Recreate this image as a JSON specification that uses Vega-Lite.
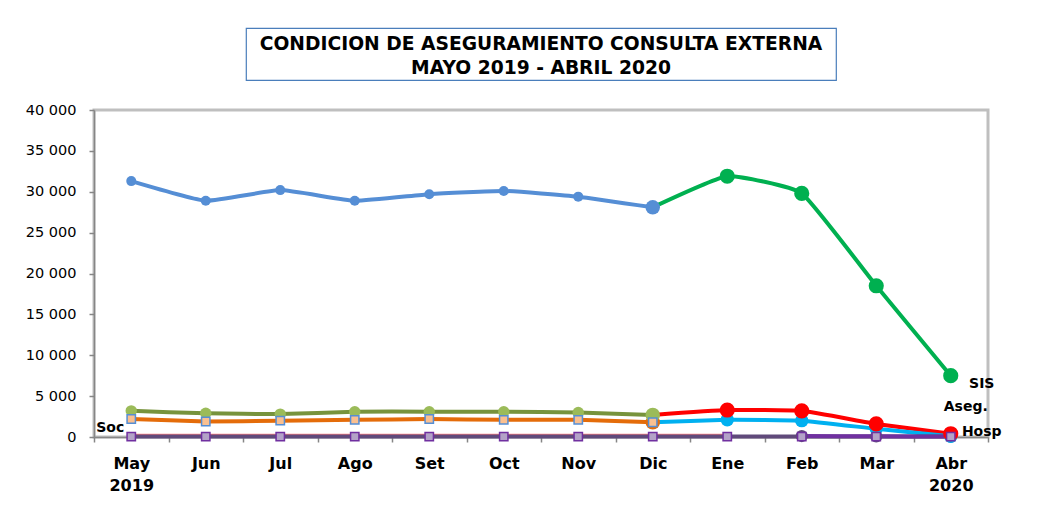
{
  "$schema": "https://vega.github.io/schema/vega-lite/v6.json",
  "background": "white",
  "padding": {"left": 23, "top": 27, "right": 5, "bottom": 5},
  "bounds": "flush",
  "center": true,
  "spacing": 30,
  "datasets": {
    "titulo": [
      {"texto": ["CONDICION DE ASEGURAMIENTO CONSULTA EXTERNA", "MAYO 2019 - ABRIL 2020"]}
    ],
    "serie": [
      {"mes": "May", "grupo": "SIS-1", "valor": 31300},
      {"mes": "Jun", "grupo": "SIS-1", "valor": 28900},
      {"mes": "Jul", "grupo": "SIS-1", "valor": 30200},
      {"mes": "Ago", "grupo": "SIS-1", "valor": 28900},
      {"mes": "Set", "grupo": "SIS-1", "valor": 29700},
      {"mes": "Oct", "grupo": "SIS-1", "valor": 30100},
      {"mes": "Nov", "grupo": "SIS-1", "valor": 29400},
      {"mes": "Dic", "grupo": "SIS-1", "valor": 28100},
      {"mes": "Dic", "grupo": "SIS-2", "valor": 28100},
      {"mes": "Ene", "grupo": "SIS-2", "valor": 31900},
      {"mes": "Feb", "grupo": "SIS-2", "valor": 29800},
      {"mes": "Mar", "grupo": "SIS-2", "valor": 18500},
      {"mes": "Abr", "grupo": "SIS-2", "valor": 7500},
      {"mes": "May", "grupo": "Aseg-1", "valor": 3200},
      {"mes": "Jun", "grupo": "Aseg-1", "valor": 2900},
      {"mes": "Jul", "grupo": "Aseg-1", "valor": 2800},
      {"mes": "Ago", "grupo": "Aseg-1", "valor": 3100},
      {"mes": "Set", "grupo": "Aseg-1", "valor": 3100},
      {"mes": "Oct", "grupo": "Aseg-1", "valor": 3100},
      {"mes": "Nov", "grupo": "Aseg-1", "valor": 3000},
      {"mes": "Dic", "grupo": "Aseg-1", "valor": 2700},
      {"mes": "Dic", "grupo": "Aseg-2", "valor": 2700},
      {"mes": "Ene", "grupo": "Aseg-2", "valor": 3300},
      {"mes": "Feb", "grupo": "Aseg-2", "valor": 3200},
      {"mes": "Mar", "grupo": "Aseg-2", "valor": 1600},
      {"mes": "Abr", "grupo": "Aseg-2", "valor": 400},
      {"mes": "May", "grupo": "Hosp-1", "valor": 2200},
      {"mes": "Jun", "grupo": "Hosp-1", "valor": 1900},
      {"mes": "Jul", "grupo": "Hosp-1", "valor": 2000},
      {"mes": "Ago", "grupo": "Hosp-1", "valor": 2100},
      {"mes": "Set", "grupo": "Hosp-1", "valor": 2200},
      {"mes": "Oct", "grupo": "Hosp-1", "valor": 2100},
      {"mes": "Nov", "grupo": "Hosp-1", "valor": 2100},
      {"mes": "Dic", "grupo": "Hosp-1", "valor": 1800},
      {"mes": "Dic", "grupo": "Hosp-2", "valor": 1800},
      {"mes": "Ene", "grupo": "Hosp-2", "valor": 2100},
      {"mes": "Feb", "grupo": "Hosp-2", "valor": 2000},
      {"mes": "Mar", "grupo": "Hosp-2", "valor": 1000},
      {"mes": "Abr", "grupo": "Hosp-2", "valor": 100},
      {"mes": "May", "grupo": "Otro", "valor": 300},
      {"mes": "Jun", "grupo": "Otro", "valor": 300},
      {"mes": "Jul", "grupo": "Otro", "valor": 300},
      {"mes": "Ago", "grupo": "Otro", "valor": 300},
      {"mes": "Set", "grupo": "Otro", "valor": 300},
      {"mes": "Oct", "grupo": "Otro", "valor": 300},
      {"mes": "Nov", "grupo": "Otro", "valor": 300},
      {"mes": "Dic", "grupo": "Otro", "valor": 300},
      {"mes": "Ene", "grupo": "Otro", "valor": 300},
      {"mes": "May", "grupo": "Soc-1", "valor": 50},
      {"mes": "Jun", "grupo": "Soc-1", "valor": 50},
      {"mes": "Jul", "grupo": "Soc-1", "valor": 50},
      {"mes": "Ago", "grupo": "Soc-1", "valor": 50},
      {"mes": "Set", "grupo": "Soc-1", "valor": 50},
      {"mes": "Oct", "grupo": "Soc-1", "valor": 50},
      {"mes": "Nov", "grupo": "Soc-1", "valor": 50},
      {"mes": "Dic", "grupo": "Soc-1", "valor": 50},
      {"mes": "Ene", "grupo": "Soc-1", "valor": 50},
      {"mes": "Feb", "grupo": "Soc-1", "valor": 50},
      {"mes": "Mar", "grupo": "Soc-1", "valor": 50},
      {"mes": "Abr", "grupo": "Soc-1", "valor": 50},
      {"mes": "Feb", "grupo": "Soc-2", "valor": 120},
      {"mes": "Mar", "grupo": "Soc-2", "valor": 80},
      {"mes": "Abr", "grupo": "Soc-2", "valor": 50}
    ],
    "etiquetas": [
      {"mes": "Abr", "valor": 6500, "etiqueta": "SIS"},
      {"mes": "Abr", "valor": 3700, "etiqueta": "Aseg."},
      {"mes": "Abr", "valor": 650, "etiqueta": "Hosp"},
      {"mes": "May", "valor": 1100, "etiqueta": "Soc"}
    ]
  },
  "vconcat": [
    {
      "width": 590,
      "height": 52,
      "view": {"stroke": "#4A7EBB", "strokeWidth": 1.2, "fill": "white"},
      "data": {"name": "titulo"},
      "mark": {"type": "text", "font": "DejaVu Sans", "fontWeight": "bold", "fontSize": 18.7, "lineHeight": 24, "align": "center", "baseline": "middle", "dy": -10, "color": "#000000"},
      "encoding": {"text": {"field": "texto", "type": "nominal"}}
    },
    {
      "width": 894,
      "height": 327,
      "view": {"stroke": "#BFBFBF", "strokeWidth": 3, "fill": "white"},
      "data": {"name": "serie"},
      "encoding": {
        "x": {
          "field": "mes", "type": "ordinal", "bandPosition": 0.5,
          "scale": {"type": "band", "domain": ["May","Jun","Jul","Ago","Set","Oct","Nov","Dic","Ene","Feb","Mar","Abr"], "paddingInner": 0, "paddingOuter": 0},
          "axis": {
            "title": null, "labelAngle": 0, "grid": false,
            "domainColor": "#868686", "domainWidth": 1.5, "tickColor": "#868686", "tickSize": 5, "tickWidth": 1.5, "tickBand": "extent",
            "labelFont": "DejaVu Sans", "labelFontWeight": "bold", "labelFontSize": 16, "labelColor": "#000000",
            "labelPadding": 13, "labelLineHeight": 22,
            "labelExpr": "datum.value == 'May' ? ['May', '2019'] : datum.value == 'Abr' ? ['Abr', '2020'] : datum.value"
          }
        },
        "y": {
          "field": "valor", "type": "quantitative",
          "scale": {"domain": [0, 40000], "nice": false, "zero": true},
          "axis": {
            "title": null, "grid": false,
            "values": [0, 5000, 10000, 15000, 20000, 25000, 30000, 35000, 40000],
            "domainColor": "#868686", "domainWidth": 1.5, "tickColor": "#868686", "tickSize": 5, "tickWidth": 1.5,
            "labelFont": "DejaVu Sans", "labelFontSize": 14.5, "labelColor": "#000000", "labelPadding": 13,
            "labelExpr": "replace(format(datum.value, ','), ',', ' ')"
          }
        }
      },
      "layer": [
        {
          "transform": [{"filter": "datum.grupo == 'Otro'"}],
          "mark": {"type": "line", "strokeWidth": 1.5, "interpolate": "cardinal", "tension": 0.6},
          "encoding": {"color": {"value": "#FF7F7F"}}
        },
        {
          "transform": [{"filter": "datum.grupo != 'Otro'"}],
          "mark": {"type": "line", "strokeWidth": 4, "interpolate": "cardinal", "tension": 0.6},
          "encoding": {
            "color": {
              "field": "grupo", "type": "nominal", "legend": null,
              "scale": {
                "domain": ["SIS-1","SIS-2","Aseg-1","Aseg-2","Hosp-1","Hosp-2","Soc-1","Soc-2"],
                "range": ["#558ED5","#00B050","#77933C","#FF0000","#E46C0A","#00B0F0","#604A7B","#7030A0"]
              }
            }
          }
        },
        {
          "transform": [{"filter": "datum.grupo == 'SIS-1' && datum.mes != 'Dic'"}],
          "mark": {"type": "circle", "size": 100, "opacity": 1},
          "encoding": {"color": {"value": "#558ED5"}}
        },
        {
          "transform": [{"filter": "datum.grupo == 'Aseg-1' && datum.mes != 'Dic'"}],
          "mark": {"type": "circle", "size": 130, "opacity": 1},
          "encoding": {"color": {"value": "#9BBB59"}}
        },
        {
          "transform": [{"filter": "datum.grupo == 'Soc-2'"}],
          "mark": {"type": "circle", "size": 150, "opacity": 1},
          "encoding": {"color": {"value": "#5F497A"}}
        },
        {
          "transform": [{"filter": "datum.grupo == 'Hosp-2' && datum.mes != 'Dic'"}],
          "mark": {"type": "circle", "size": 180, "opacity": 1},
          "encoding": {"color": {"value": "#00B0F0"}}
        },
        {
          "transform": [{"filter": "datum.grupo == 'Aseg-2' && datum.mes != 'Dic'"}],
          "mark": {"type": "circle", "size": 230, "opacity": 1},
          "encoding": {"color": {"value": "#FF0000"}}
        },
        {
          "transform": [{"filter": "datum.grupo == 'SIS-2' && datum.mes != 'Dic'"}],
          "mark": {"type": "circle", "size": 230, "opacity": 1},
          "encoding": {"color": {"value": "#00B050"}}
        },
        {
          "transform": [{"filter": "datum.grupo == 'Hosp-1' && datum.mes == 'Dic'"}],
          "mark": {"type": "circle", "size": 210, "opacity": 1},
          "encoding": {"color": {"value": "#E46C0A"}}
        },
        {
          "transform": [{"filter": "datum.grupo == 'Aseg-1' && datum.mes == 'Dic'"}],
          "mark": {"type": "circle", "size": 210, "opacity": 1},
          "encoding": {"color": {"value": "#9BBB59"}}
        },
        {
          "transform": [{"filter": "datum.grupo == 'SIS-1' && datum.mes == 'Dic'"}],
          "mark": {"type": "circle", "size": 210, "opacity": 1},
          "encoding": {"color": {"value": "#558ED5"}}
        },
        {
          "transform": [{"filter": "datum.grupo == 'Hosp-1'"}],
          "mark": {"type": "square", "size": 70, "filled": true, "fill": "#FAC090", "stroke": "#558ED5", "strokeWidth": 1.5, "opacity": 1},
          "encoding": {}
        },
        {
          "transform": [{"filter": "datum.grupo == 'Soc-1'"}],
          "mark": {"type": "square", "size": 70, "filled": true, "fill": "#B3A2C7", "stroke": "#7030A0", "strokeWidth": 1.5, "opacity": 1},
          "encoding": {}
        },
        {
          "data": {"name": "etiquetas"},
          "transform": [{"filter": "datum.etiqueta == 'SIS' || datum.etiqueta == 'Hosp'"}],
          "mark": {"type": "text", "font": "DejaVu Sans", "fontWeight": "bold", "fontSize": 14, "align": "center", "baseline": "middle", "dx": 31, "color": "#000000"},
          "encoding": {"text": {"field": "etiqueta", "type": "nominal"}}
        },
        {
          "data": {"name": "etiquetas"},
          "transform": [{"filter": "datum.etiqueta == 'Aseg.'"}],
          "mark": {"type": "text", "font": "DejaVu Sans", "fontWeight": "bold", "fontSize": 14, "align": "center", "baseline": "middle", "dx": 15, "color": "#000000"},
          "encoding": {"text": {"field": "etiqueta", "type": "nominal"}}
        },
        {
          "data": {"name": "etiquetas"},
          "transform": [{"filter": "datum.etiqueta == 'Soc'"}],
          "mark": {"type": "text", "font": "DejaVu Sans", "fontWeight": "bold", "fontSize": 14, "align": "center", "baseline": "middle", "dx": -21, "color": "#000000"},
          "encoding": {"text": {"field": "etiqueta", "type": "nominal"}}
        }
      ]
    }
  ],
  "config": {
    "font": "DejaVu Sans",
    "axis": {"grid": false}
  }
}
